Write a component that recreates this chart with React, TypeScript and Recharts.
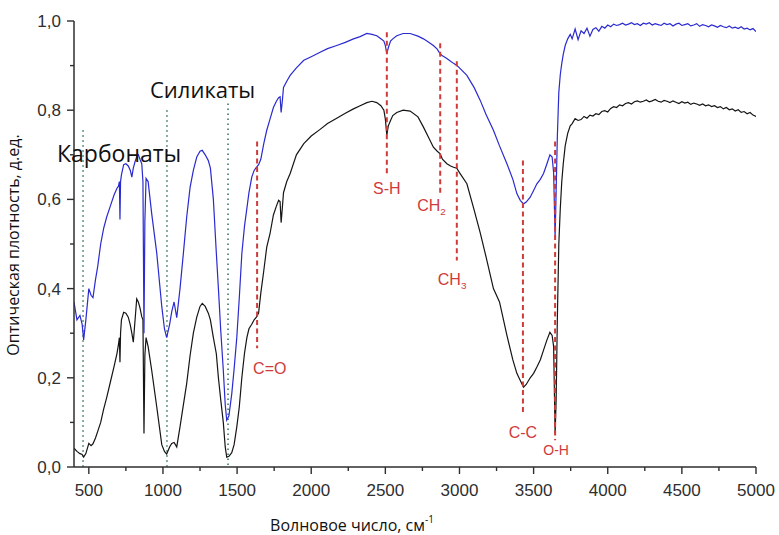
import React from 'react';
import { LineChart, Line, XAxis, YAxis, ReferenceLine } from 'recharts';

// wavenumber, cm-1
const wavenumbers = [
  400, 420, 440, 455, 465, 480, 500, 515, 528, 545,
  560, 580, 600, 620, 645, 670, 690, 700, 706, 710,
  714, 720, 735, 750, 766, 780, 790, 800, 812, 823,
  834, 845, 857, 865, 872, 878, 886, 900, 924, 958,
  992, 1010, 1025, 1045, 1059, 1075, 1093, 1115, 1138, 1160,
  1183, 1205, 1228, 1250, 1265, 1285, 1306, 1320, 1340, 1360,
  1374, 1390, 1407, 1420, 1430, 1445, 1464, 1480, 1498, 1515,
  1532, 1550, 1566, 1580, 1599, 1615, 1630, 1645, 1660, 1680,
  1700, 1722, 1745, 1765, 1780, 1790, 1797, 1805, 1813, 1835,
  1858, 1900, 1950, 2000, 2060, 2110, 2172, 2230, 2285, 2330,
  2375, 2410, 2442, 2470, 2490, 2500, 2510, 2520, 2535, 2550,
  2577, 2620, 2667, 2720, 2757, 2790, 2824, 2850, 2870, 2885,
  2915, 2940, 2960, 2982, 3000, 3050, 3100, 3140, 3180, 3229,
  3270, 3320, 3360, 3387, 3410, 3432, 3450, 3477, 3500, 3522,
  3545, 3567, 3590, 3610, 3625, 3635, 3645, 3652, 3660, 3670,
  3680, 3690, 3700, 3713, 3730, 3747,
  3760, 3780, 3800, 3820, 3840, 3860, 3880, 3900, 3920, 3940,
  3960, 3980, 4000, 4020, 4040, 4060, 4080, 4100, 4120, 4140,
  4160, 4180, 4200, 4220, 4240, 4260, 4280, 4300, 4320, 4340,
  4360, 4380, 4400, 4420, 4440, 4460, 4480, 4500, 4520, 4540,
  4560, 4580, 4600, 4620, 4640, 4660, 4680, 4700, 4720, 4740,
  4760, 4780, 4800, 4820, 4840, 4860, 4880, 4900, 4920, 4940,
  4960, 4980, 5000,
];

// blue curve (upper)
const upperSample = [
  0.37, 0.33, 0.34, 0.32, 0.285, 0.33, 0.40, 0.385, 0.38, 0.42,
  0.45, 0.50, 0.535, 0.56, 0.585, 0.61, 0.625, 0.63, 0.64, 0.555,
  0.64, 0.655, 0.678, 0.68, 0.675, 0.665, 0.65, 0.67, 0.685, 0.695,
  0.70, 0.69, 0.68, 0.64, 0.30, 0.55, 0.647, 0.64, 0.568, 0.48,
  0.36, 0.31, 0.29, 0.32, 0.348, 0.37, 0.335, 0.40, 0.48, 0.56,
  0.627, 0.665, 0.695, 0.708, 0.71, 0.70, 0.687, 0.67, 0.60, 0.48,
  0.40, 0.305, 0.217, 0.14, 0.105, 0.115, 0.164, 0.22, 0.29, 0.38,
  0.478, 0.54, 0.58, 0.615, 0.65, 0.665, 0.672, 0.678, 0.69, 0.725,
  0.755, 0.78, 0.806, 0.82, 0.828, 0.83, 0.795, 0.82, 0.851, 0.865,
  0.878, 0.895, 0.912, 0.92, 0.93, 0.938, 0.945, 0.952, 0.96, 0.965,
  0.972, 0.97, 0.967, 0.96, 0.955, 0.945, 0.927, 0.94, 0.955, 0.96,
  0.967, 0.972, 0.972, 0.966, 0.96, 0.953, 0.945, 0.937, 0.926, 0.922,
  0.916, 0.91, 0.905, 0.90, 0.895, 0.878, 0.85, 0.822, 0.79, 0.755,
  0.72, 0.68, 0.645, 0.613, 0.598, 0.59, 0.594, 0.605, 0.62, 0.635,
  0.645, 0.658, 0.68, 0.70, 0.695, 0.66, 0.515, 0.62, 0.74, 0.84,
  0.88, 0.905, 0.925, 0.945, 0.96, 0.97,
  0.960, 0.982, 0.958, 0.978, 0.972, 0.984, 0.966, 0.981, 0.985, 0.977,
  0.988, 0.984, 0.991, 0.987, 0.993, 0.990, 0.992, 0.995, 0.991, 0.993,
  0.996, 0.992, 0.994, 0.990, 0.995, 0.993, 0.996, 0.991, 0.994, 0.992,
  0.990, 0.995, 0.992, 0.994, 0.989, 0.993, 0.995, 0.990, 0.992, 0.994,
  0.989, 0.991, 0.994, 0.988, 0.992, 0.990, 0.987, 0.991, 0.989, 0.986,
  0.990, 0.987, 0.985, 0.989, 0.984, 0.986, 0.983, 0.987, 0.982, 0.984,
  0.980, 0.983, 0.976,
];

// black curve (lower)
const lowerSample = [
  0.042, 0.035, 0.03, 0.028, 0.022, 0.03, 0.053, 0.048, 0.052, 0.065,
  0.08, 0.10, 0.13, 0.155, 0.19, 0.225, 0.255, 0.275, 0.29, 0.235,
  0.30, 0.33, 0.347, 0.345, 0.336, 0.318, 0.30, 0.28, 0.33, 0.377,
  0.37, 0.357, 0.337, 0.33, 0.075, 0.25, 0.29, 0.27, 0.217, 0.135,
  0.05, 0.035, 0.029, 0.045, 0.053, 0.055, 0.045, 0.09, 0.14, 0.187,
  0.25, 0.30, 0.336, 0.36, 0.367, 0.36, 0.345, 0.33, 0.29, 0.254,
  0.20, 0.15, 0.10, 0.045, 0.022, 0.024, 0.032, 0.05, 0.09, 0.135,
  0.20, 0.255, 0.29, 0.31, 0.32, 0.33, 0.336, 0.345, 0.39, 0.44,
  0.493, 0.523, 0.565, 0.585, 0.598, 0.595, 0.548, 0.58, 0.615, 0.64,
  0.658, 0.70, 0.725, 0.742, 0.757, 0.77, 0.782, 0.793, 0.803, 0.81,
  0.817, 0.82, 0.817, 0.81, 0.80, 0.78, 0.744, 0.765, 0.777, 0.788,
  0.795, 0.80, 0.798, 0.785, 0.762, 0.74, 0.717, 0.708, 0.702, 0.69,
  0.68, 0.675, 0.672, 0.67, 0.66, 0.635, 0.575, 0.525, 0.47, 0.40,
  0.37, 0.295, 0.24, 0.21, 0.194, 0.179, 0.185, 0.20, 0.21, 0.224,
  0.24, 0.262, 0.285, 0.302, 0.295, 0.27, 0.075, 0.15, 0.33, 0.50,
  0.58, 0.64, 0.68, 0.72, 0.748, 0.765,
  0.770, 0.781, 0.777, 0.779, 0.786, 0.782, 0.789, 0.787, 0.792, 0.790,
  0.797, 0.799, 0.796, 0.804, 0.808, 0.806, 0.812, 0.810, 0.815, 0.817,
  0.814, 0.819, 0.821, 0.818, 0.820, 0.823, 0.819, 0.821, 0.824, 0.820,
  0.818, 0.822, 0.820, 0.817, 0.821, 0.818, 0.815, 0.819, 0.816, 0.818,
  0.813, 0.816, 0.814, 0.811, 0.814, 0.810, 0.812, 0.808, 0.810, 0.806,
  0.808, 0.803, 0.806, 0.801, 0.803, 0.798, 0.801, 0.795, 0.797, 0.792,
  0.795, 0.789, 0.786,
];

const xTicks = [
  500, 750, 1000, 1250, 1500, 1750, 2000, 2250, 2500, 2750,
  3000, 3250, 3500, 3750, 4000, 4250, 4500, 4750, 5000,
];
const yTicks = [0, 0.1, 0.2, 0.3, 0.4, 0.5, 0.6, 0.7, 0.8, 0.9, 1];

// absorption bands (red dashed markers)
const bandNames = ['C=O', 'S-H', 'CH', 'CH', 'C-C', 'O-H'];
const bandSubscripts = ['', '', '2', '3', '', ''];
const bandPositions = [1635, 2510, 2870, 2982, 3428, 3645];
const bandTops = [0.73, 0.975, 0.95, 0.91, 0.687, 0.73];
const bandBottoms = [0.266, 0.654, 0.61, 0.463, 0.12, 0.06];

// mineral groups (green dotted markers)
const groupLinePositions = [461, 1027, 1439];
const groupLineTops = [0.755, 0.8, 0.815];

const data = wavenumbers.map((x, i) => ({
  x,
  upper: upperSample[i],
  lower: lowerSample[i],
}));

const AXIS = '#2e2e2e';
const RED = '#cf3b3b';
const GREEN = '#3b7a68';
const TICK_FONT = '"Liberation Sans", Arial, sans-serif';
const TEXT_FONT = '"Open Sans", "Noto Sans", sans-serif';

const isMajorX = (v: number) => v % 500 === 0;
const isMajorY = (v: number) => Math.round(v * 10) % 2 === 0;

const BottomTick = ({ x, y, payload }: any) => {
  const major = isMajorX(payload.value);
  return (
    <g>
      <line x1={x} x2={x} y1={y} y2={y + (major ? 7 : 4)} stroke={AXIS} strokeWidth={1.4} />
      {major && (
        <text x={x} y={y + 29} textAnchor="middle" fontSize={17} fill={AXIS} fontFamily={TICK_FONT}>
          {payload.value}
        </text>
      )}
    </g>
  );
};

const TopTick = ({ x, y, payload }: any) => (
  <line x1={x} x2={x} y1={y} y2={y + (isMajorX(payload.value) ? 7 : 5)} stroke={AXIS} strokeWidth={1.4} />
);

const LeftTick = ({ x, y, payload }: any) => {
  const major = isMajorY(payload.value);
  return (
    <g>
      <line x1={x} x2={x - (major ? 7 : 4)} y1={y} y2={y} stroke={AXIS} strokeWidth={1.4} />
      {major && (
        <text x={x - 13} y={y + 6} textAnchor="end" fontSize={17} fill={AXIS} fontFamily={TICK_FONT}>
          {payload.value.toFixed(1).replace('.', ',')}
        </text>
      )}
    </g>
  );
};

const RightTick = ({ x, y, payload }: any) => (
  <line x1={x} x2={x - (isMajorY(payload.value) ? 7 : 5)} y1={y} y2={y} stroke={AXIS} strokeWidth={1.4} />
);

// label offsets from the lower end of each band marker
const bandLabelStyle = [
  { dx: -4, dy: 26, anchor: 'start', size: 16 },
  { dx: 0, dy: 19, anchor: 'middle', size: 16 },
  { dx: -23, dy: 16, anchor: 'start', size: 16 },
  { dx: -19, dy: 24, anchor: 'start', size: 16 },
  { dx: 0, dy: 25, anchor: 'middle', size: 16 },
  { dx: 1, dy: 15, anchor: 'middle', size: 14 },
];

const bandLabel = (i: number) => (props: any) => {
  const vb = props.viewBox || props;
  const s = bandLabelStyle[i];
  return (
    <text
      x={vb.x + s.dx}
      y={vb.y + vb.height + s.dy}
      textAnchor={s.anchor as any}
      fontSize={s.size}
      fill={RED}
      fontFamily={TICK_FONT}
    >
      {bandNames[i]}
      {bandSubscripts[i] && (
        <tspan fontSize={s.size * 0.62} dy={4}>
          {bandSubscripts[i]}
        </tspan>
      )}
    </text>
  );
};

export default function App() {
  return (
    <div style={{ position: 'absolute', left: 0, top: 0, width: 779, height: 535, background: '#fff' }}>
      <LineChart width={779} height={535} data={data} margin={{ top: 21, right: 23, bottom: 0, left: 0 }}>
        <XAxis
          dataKey="x"
          type="number"
          domain={[400, 5000]}
          allowDataOverflow
          ticks={xTicks}
          interval={0}
          height={68}
          tickSize={0}
          tickMargin={0}
          tickLine={false}
          tick={<BottomTick />}
          axisLine={{ stroke: AXIS, strokeWidth: 1.5 }}
        />
        <XAxis
          xAxisId="top"
          orientation="top"
          dataKey="x"
          type="number"
          domain={[400, 5000]}
          allowDataOverflow
          ticks={xTicks}
          interval={0}
          height={0}
          tickSize={0}
          tickMargin={0}
          tickLine={false}
          tick={<TopTick />}
          axisLine={{ stroke: AXIS, strokeWidth: 1.5 }}
        />
        <YAxis
          type="number"
          domain={[0, 1]}
          allowDataOverflow
          ticks={yTicks}
          interval={0}
          width={74}
          tickSize={0}
          tickMargin={0}
          tickLine={false}
          tick={<LeftTick />}
          axisLine={{ stroke: AXIS, strokeWidth: 1.5 }}
        />
        <YAxis
          yAxisId="right"
          orientation="right"
          type="number"
          domain={[0, 1]}
          allowDataOverflow
          ticks={yTicks}
          interval={0}
          width={0}
          tickSize={0}
          tickMargin={0}
          tickLine={false}
          tick={<RightTick />}
          axisLine={{ stroke: AXIS, strokeWidth: 1.5 }}
        />

        {groupLinePositions.map((gx, i) => (
          <ReferenceLine
            key={`g${i}`}
            segment={[{ x: gx, y: groupLineTops[i] }, { x: gx, y: 0 }]}
            stroke={GREEN}
            strokeWidth={1.6}
            strokeDasharray="1.5 3.5"
          />
        ))}

        <Line
          dataKey="lower"
          stroke="#151515"
          strokeWidth={1.2}
          dot={false}
          isAnimationActive={false}
        />
        <Line
          dataKey="upper"
          stroke="#2a2ad0"
          strokeWidth={1.2}
          dot={false}
          isAnimationActive={false}
        />

        {bandPositions.map((bx, i) => (
          <ReferenceLine
            key={`b${i}`}
            segment={[{ x: bx, y: bandTops[i] }, { x: bx, y: bandBottoms[i] }]}
            stroke={RED}
            strokeWidth={2}
            strokeDasharray="5 3.5"
            label={bandLabel(i)}
          />
        ))}
      </LineChart>

      <svg
        width={779}
        height={535}
        style={{ position: 'absolute', left: 0, top: 0, pointerEvents: 'none' }}
      >
        <text x={150} y={98} fontSize={22} fill="#111" fontFamily={TEXT_FONT}>
          Силикаты
        </text>
        <text x={57} y={162} fontSize={23} fill="#111" fontFamily={TEXT_FONT}>
          Карбонаты
        </text>
        <text x={352} y={531} textAnchor="middle" fontSize={16} fill="#111" fontFamily={TEXT_FONT}>
          Волновое число, см
          <tspan fontSize={10} dy={-8}>-1</tspan>
        </text>
        <text
          x={0}
          y={0}
          transform="translate(19 245) rotate(-90)"
          textAnchor="middle"
          fontSize={16}
          fill="#111"
          fontFamily={TEXT_FONT}
        >
          Оптическая плотность, д.ед.
        </text>
      </svg>
    </div>
  );
}
